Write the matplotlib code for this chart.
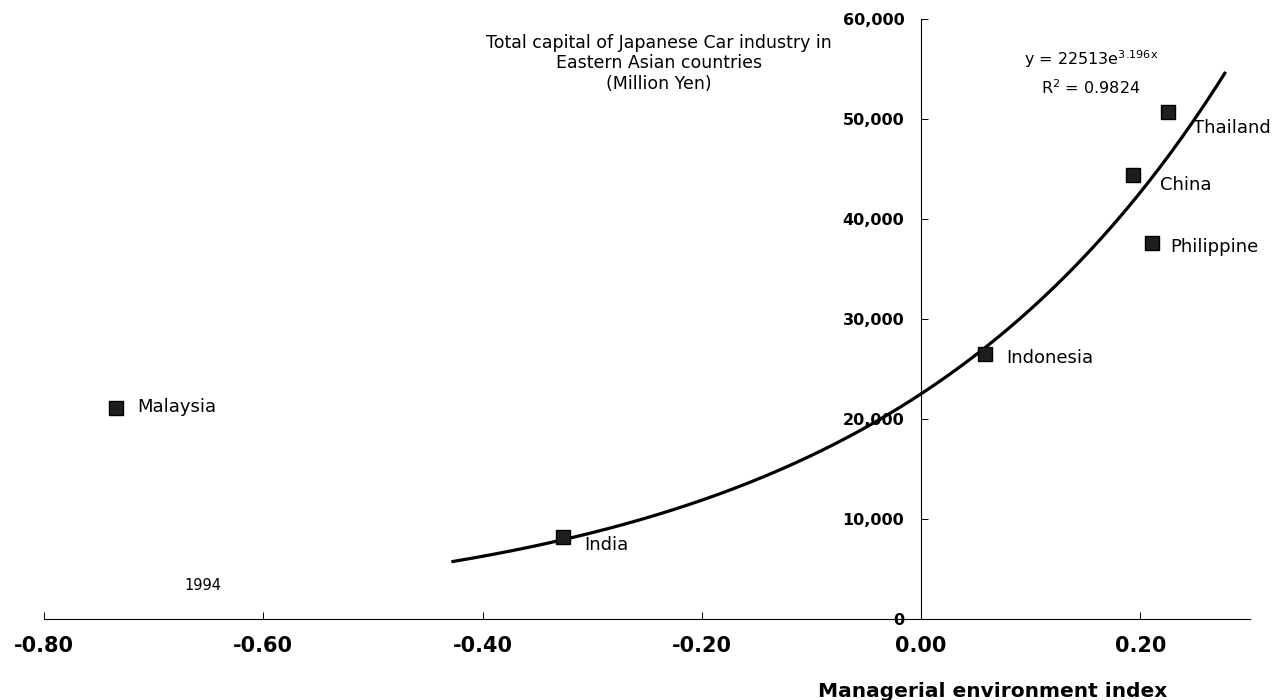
import numpy as np
import matplotlib.pyplot as plt
from matplotlib.ticker import FuncFormatter, MultipleLocator

plt.rcParams['font.family'] = ['DejaVu Sans']
plt.rcParams['mathtext.default'] = 'regular'

# (0) data
countries = ['Malaysia', 'India', 'Indonesia', 'China', 'Philippine', 'Thailand']
env_index = [-0.734, -0.327, 0.058, 0.193, 0.211, 0.225]
capital   = [21100, 8200, 26500, 44400, 37600, 50700]

# label offsets from the marker (pixels)
label_dx  = [21, 22, 22, 27, 18, 25]
label_dy  = [1, -8, -4, -10, -4, -16]

# exponential trendline given on the chart
fit_a, fit_b = 22513, 3.196
fit_range    = (-0.427, 0.277)

# (1) figure
fig = plt.figure(figsize=(12.86, 7.0), dpi=100)
ax = fig.add_axes([0.0342, 0.1157, 0.9378, 0.8573])

xx = np.linspace(fit_range[0], fit_range[1], 200)
ax.plot(xx, fit_a*np.exp(fit_b*xx), color='black', lw=2.3, zorder=2)

ax.plot(env_index, capital, 's', color='#1e1e1e', ms=10, mec='black', zorder=3)
for name, x, y, dx, dy in zip(countries, env_index, capital, label_dx, label_dy):
    ax.annotate(name, (x, y), xytext=(dx, dy), textcoords='offset pixels',
                ha='left', va='center', fontsize=13)

# (2) axes styling
ax.set_xlim(-0.8, 0.3)
ax.set_ylim(0, 60000)
ax.spines['left'].set_position(('data', 0))
ax.spines['top'].set_visible(False)
ax.spines['right'].set_visible(False)
for s in ['left', 'bottom']:
    ax.spines[s].set_linewidth(0.8)

ax.xaxis.set_major_locator(MultipleLocator(0.2))
ax.yaxis.set_major_locator(MultipleLocator(10000))
ax.xaxis.set_major_formatter(FuncFormatter(lambda v, p: '%.2f' % v if abs(v) > 1e-9 else '0.00'))
ax.yaxis.set_major_formatter(FuncFormatter(lambda v, p: '{:,.0f}'.format(v)))
ax.tick_params(axis='x', direction='in', length=5, width=0.7, pad=12, labelsize=15)
ax.tick_params(axis='y', direction='in', length=5, width=0.7, pad=12, labelsize=11.5)
for t in ax.get_xticklabels() + ax.get_yticklabels():
    t.set_fontweight('bold')

ax.set_xlabel('Managerial environment index', fontsize=14.5, fontweight='bold')
ax.xaxis.set_label_coords(0.787, -0.105)

fig.text(0.5125, 0.952, 'Total capital of Japanese Car industry in\nEastern Asian countries\n(Million Yen)',
         ha='center', va='top', fontsize=12.5, linespacing=1.2)

ax.text(0.155, 56000, r'y = 22513e$^{3.196x}$', ha='center', va='center', fontsize=11.5)
ax.text(0.155, 53100, r'R$^2$ = 0.9824', ha='center', va='center', fontsize=11.5)

ax.text(-0.655, 3400, '1994', ha='center', va='center', fontsize=10.5)

fig.savefig('out.png', dpi=100)
